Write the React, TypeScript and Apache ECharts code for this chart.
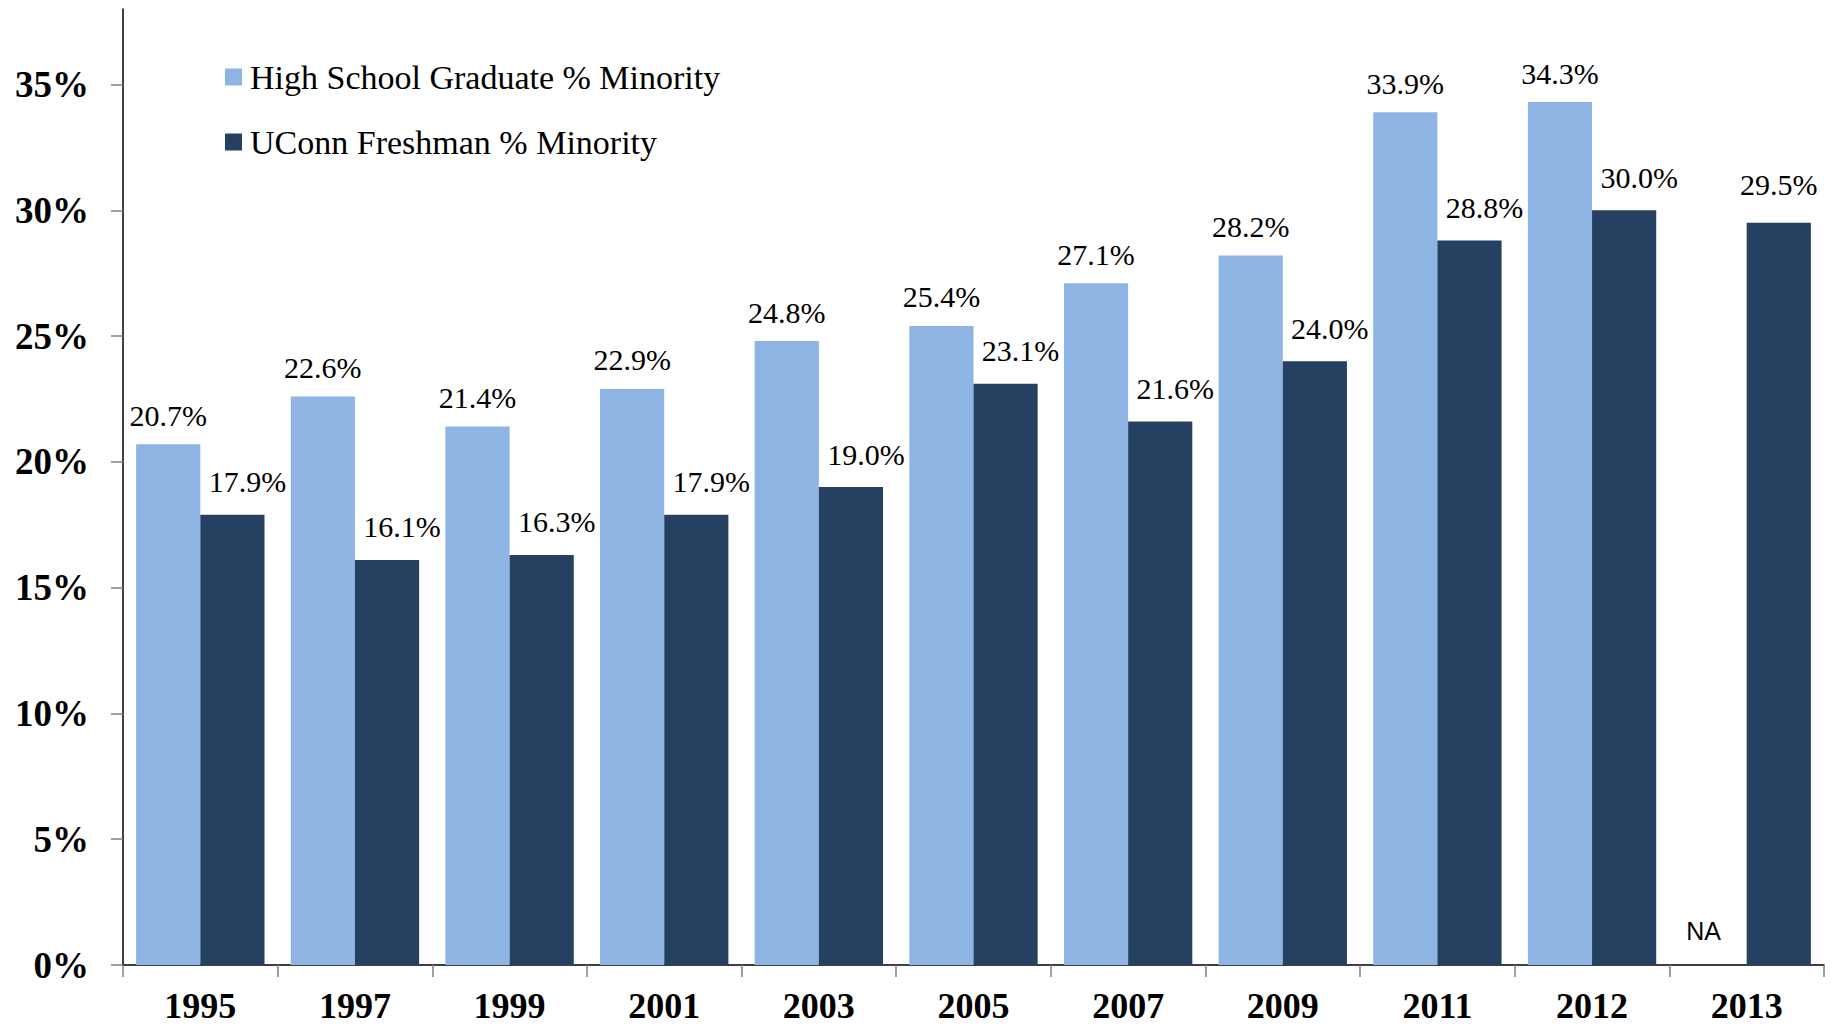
import React, { useEffect, useRef } from "react";
import * as echarts from "echarts";

const years = ["1995", "1997", "1999", "2001", "2003", "2005", "2007", "2009", "2011", "2012", "2013"];
const hsGradMinority: (number | null)[] = [20.7, 22.6, 21.4, 22.9, 24.8, 25.4, 27.1, 28.2, 33.9, 34.3, null];
const uconnFreshMinority: number[] = [17.9, 16.1, 16.3, 17.9, 19.0, 23.1, 21.6, 24.0, 28.8, 30.0, 29.5];
const yTicks = [0, 5, 10, 15, 20, 25, 30, 35];
const seriesNames = ["High School Graduate % Minority", "UConn Freshman % Minority"];
const naText = "NA";

const SERIF = "Liberation Serif, Times New Roman, serif";
const SANS = "Liberation Sans, Arial, sans-serif";
const LIGHT = "#8EB4E3";
const DARK = "#254061";
const WIDTH = 1833;
const HEIGHT = 1026;
const DARK_LABEL_SHIFT = 15;

export default function App() {
  const ref = useRef<HTMLDivElement>(null);

  useEffect(() => {
    if (!ref.current) return;
    const chart = echarts.init(ref.current, null, { renderer: "svg" });

    const lightData = hsGradMinority.map((v) =>
      v === null
        ? {
            value: 0,
            label: {
              show: true,
              formatter: naText,
              fontFamily: SANS,
              fontSize: 25,
              distance: 22,
              offset: [-11, 0],
              color: "#000",
            },
          }
        : v
    );

    const pct = (p: any) => `${Number(p.value).toFixed(1)}%`;

    chart.setOption({
      animation: false,
      backgroundColor: "#ffffff",
      grid: { left: 123, right: 9, top: 9, bottom: 61, containLabel: false },
      legend: {
        orient: "vertical",
        left: 220,
        top: 55,
        itemWidth: 17,
        itemHeight: 17,
        itemGap: 31,
        icon: "rect",
        data: seriesNames,
        textStyle: {
          fontFamily: SERIF,
          fontSize: 34,
          lineHeight: 34,
          color: "#000",
          padding: [0, 0, 0, 3],
        },
      },
      xAxis: {
        type: "category",
        data: years,
        axisLine: { show: true, lineStyle: { color: "#000", width: 1.5 } },
        axisTick: { show: true, length: 12, lineStyle: { color: "#808080", width: 1.5 } },
        axisLabel: {
          fontFamily: SERIF,
          fontWeight: "bold",
          fontSize: 36,
          color: "#000",
          margin: 23,
        },
        splitLine: { show: false },
      },
      yAxis: {
        type: "value",
        min: 0,
        max: 38,
        interval: 5,
        axisLine: { show: true, lineStyle: { color: "#000", width: 1.5 } },
        axisTick: {
          show: true,
          length: 12,
          customValues: yTicks,
          lineStyle: { color: "#808080", width: 1.5 },
        },
        axisLabel: {
          customValues: yTicks,
          formatter: (v: number) => `${Math.round(v)}%`,
          fontFamily: SERIF,
          fontWeight: "bold",
          fontSize: 37,
          color: "#000",
          margin: 34,
        },
        splitLine: { show: false },
      },
      series: [
        {
          name: seriesNames[0],
          type: "bar",
          data: lightData,
          barGap: "0%",
          barCategoryGap: "17%",
          itemStyle: { color: LIGHT },
          label: {
            show: true,
            position: "top",
            distance: 14,
            formatter: pct,
            fontFamily: SERIF,
            fontSize: 30,
            color: "#000",
          },
        },
        {
          name: seriesNames[1],
          type: "bar",
          data: uconnFreshMinority,
          barGap: "0%",
          barCategoryGap: "17%",
          itemStyle: { color: DARK },
          label: {
            show: true,
            position: "top",
            distance: 18,
            formatter: pct,
            fontFamily: SERIF,
            fontSize: 30,
            color: "#000",
          },
          labelLayout: (params: any) => {
            const r = params.labelRect;
            if (r && r.x + r.width + DARK_LABEL_SHIFT > WIDTH - 8) {
              return { dx: 0, dy: -5 };
            }
            return { dx: DARK_LABEL_SHIFT };
          },
        },
      ],
    });

    return () => chart.dispose();
  }, []);

  return (
    <div
      ref={ref}
      style={{ position: "absolute", left: 0, top: 0, width: WIDTH, height: HEIGHT, background: "#fff" }}
    />
  );
}
